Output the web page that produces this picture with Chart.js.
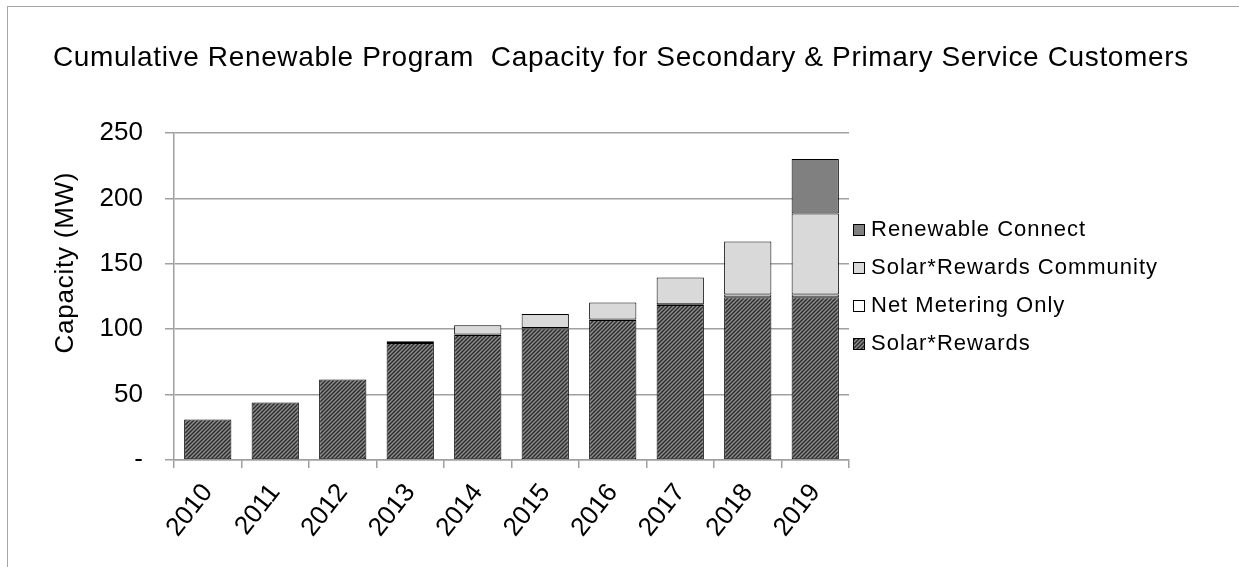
<!DOCTYPE html>
<html>
<head>
<meta charset="utf-8">
<script src="https://cdn.jsdelivr.net/npm/chart.js@4.4.0/dist/chart.umd.min.js"></script>
<style>
  html, body { margin: 0; padding: 0; background: #fff; }
  #wrap { position: relative; width: 1239px; height: 567px; overflow: hidden; }
  #frame { position: absolute; left: 7px; top: 6px; width: 1300px; height: 700px; border: 1px solid #a6a6a6; box-sizing: border-box; }
  canvas { position: absolute; left: 0; top: 0; }
</style>
</head>
<body>
<div id="wrap">
  <div id="frame"></div>
  <canvas id="c" width="1239" height="567"></canvas>
</div>
<script>
const titleText = 'Cumulative Renewable Program  Capacity for Secondary & Primary Service Customers';
const yAxisTitle = 'Capacity (MW)';
const categories = ['2010','2011','2012','2013','2014','2015','2016','2017','2018','2019'];
const yTicks = [0, 50, 100, 150, 200, 250];
const solarRewards       = [31, 44, 61.5, 89.5, 95.5, 100.5, 107, 118.5, 124.5, 124.5];
const netMeteringOnly    = [0, 0, 0, 1.3, 0.5, 0.5, 0.5, 0.5, 2, 2];
const solarRewardsComm   = [0, 0, 0, 0, 7, 10.7, 13, 20.5, 40.5, 62];
const renewableConnect   = [0, 0, 0, 0, 0, 0, 0, 0, 0, 41.6];

const FONT = '"Liberation Sans", Arial, sans-serif';

function makeHatch() {
  const s = 4;
  const c = document.createElement('canvas');
  c.width = s; c.height = s;
  const g = c.getContext('2d');
  g.fillStyle = '#2e2e2e';
  g.fillRect(0, 0, s, s);
  g.strokeStyle = '#8f8f8f';
  g.lineWidth = 1.3;
  g.beginPath();
  g.moveTo(0, s); g.lineTo(s, 0);
  g.moveTo(-1, 1); g.lineTo(1, -1);
  g.moveTo(s - 1, s + 1); g.lineTo(s + 1, s - 1);
  g.stroke();
  return document.getElementById('c').getContext('2d').createPattern(c, 'repeat');
}
const hatch = makeHatch();

function spacedText(ctx, text, x, y, targetWidth) {
  ctx.letterSpacing = '0px';
  const w = ctx.measureText(text).width;
  const sp = targetWidth ? Math.max(0, (targetWidth - w) / (text.length - 1)) : 0;
  ctx.letterSpacing = sp.toFixed(2) + 'px';
  ctx.fillText(text, x, y);
  ctx.letterSpacing = '0px';
}

const customDecor = {
  id: 'customDecor',
  afterDraw(chart) {
    const ctx = chart.ctx;
    const area = chart.chartArea;
    // chart title
    ctx.save();
    ctx.fillStyle = '#000';
    ctx.font = '28px ' + FONT;
    ctx.textAlign = 'left';
    ctx.textBaseline = 'alphabetic';
    spacedText(ctx, titleText, 53, 66, 1135);
    ctx.restore();
    // y-axis title
    ctx.save();
    ctx.fillStyle = '#000';
    ctx.font = '26px ' + FONT;
    ctx.translate(66, 263);
    ctx.rotate(-Math.PI / 2);
    ctx.textAlign = 'left';
    ctx.textBaseline = 'middle';
    const yw = 181;
    spacedText(ctx, yAxisTitle, -yw / 2, 0, yw);
    ctx.restore();
    // legend (reverse order: top of stack first)
    const ds = chart.data.datasets.slice().reverse();
    const x0 = area.right + 4;
    const yStart = 229.5, gap = 38;
    ctx.save();
    ctx.font = '22px ' + FONT;
    ctx.textBaseline = 'middle';
    ctx.textAlign = 'left';
    ds.forEach((d, i) => {
      const cy = Math.round(yStart + i * gap);
      ctx.fillStyle = d.backgroundColor;
      ctx.fillRect(x0, cy - 6, 12, 12);
      ctx.strokeStyle = '#000';
      ctx.lineWidth = 1;
      ctx.strokeRect(x0 + 0.5, cy - 5.5, 11, 11);
      ctx.fillStyle = '#000';
      ctx.letterSpacing = '1px';
      ctx.fillText(d.label, x0 + 18, cy);
      ctx.letterSpacing = '0px';
    });
    ctx.restore();
  }
};

const chart = new Chart(document.getElementById('c'), {
  type: 'bar',
  data: {
    labels: categories,
    datasets: [
      { label: 'Solar*Rewards', data: solarRewards, backgroundColor: hatch },
      { label: 'Net Metering Only', data: netMeteringOnly, backgroundColor: '#ffffff' },
      { label: 'Solar*Rewards Community', data: solarRewardsComm, backgroundColor: '#d9d9d9' },
      { label: 'Renewable Connect', data: renewableConnect, backgroundColor: '#808080' }
    ].map(d => Object.assign(d, {
      borderColor: '#000', borderWidth: 1, borderSkipped: false,
      categoryPercentage: 1.0, barPercentage: 0.7
    }))
  },
  options: {
    responsive: false,
    animation: false,
    devicePixelRatio: 1,
    layout: { padding: { left: 53, right: 390, top: 133, bottom: 0 } },
    plugins: {
      legend: { display: false },
      tooltip: { enabled: false },
      title: { display: false }
    },
    scales: {
      x: {
        stacked: true,
        grid: { display: true, drawOnChartArea: false, drawTicks: true, tickLength: 8, color: '#a0a0a0', lineWidth: 1.5, offset: true },
        border: { display: true, color: '#a0a0a0', width: 1.5 },
        ticks: { color: '#000', font: { family: FONT, size: 26 }, minRotation: 52, maxRotation: 52, padding: 10 },
        afterFit(s) { s.height = 107; }
      },
      y: {
        stacked: true,
        min: 0, max: 250,
        afterBuildTicks(s) { s.ticks = yTicks.map(v => ({ value: v })); },
        grid: { color: '#a0a0a0', lineWidth: 1.5, tickLength: 9, drawTicks: true },
        border: { display: true, color: '#a0a0a0', width: 1.5 },
        ticks: { color: '#000', font: { family: FONT, size: 26 }, padding: 22,
          callback: v => v === 0 ? '-' : String(v) },
        afterFit(s) { s.width = 121; }
      }
    }
  },
  plugins: [customDecor]
});
</script>
</body>
</html>
